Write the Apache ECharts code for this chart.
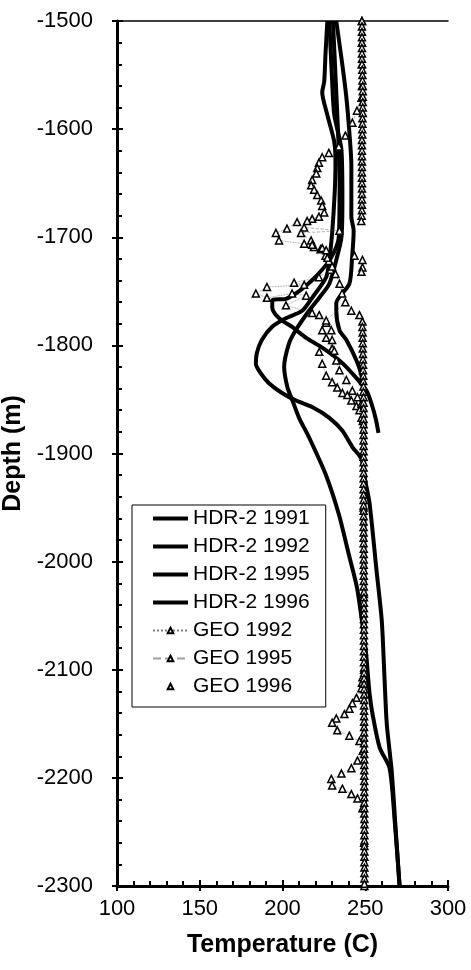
<!DOCTYPE html>
<html>
<head>
<meta charset="utf-8">
<title>Depth vs Temperature</title>
<script src="https://cdn.jsdelivr.net/npm/echarts@6/dist/echarts.min.js"></script>
<style>
html, body { margin: 0; padding: 0; background: #fff; }
#chart { width: 471px; height: 970px; }
</style>
</head>
<body>
<div id="chart"></div>
<script>
// temperature logs: depth (m) and temperature (C)
var hdr91Depth = [-1500, -1550, -1600, -1650, -1700, -1720, -1735, -1745, -1752, -1757, -1758, -1765, -1771, -1777, -1783, -1793, -1802, -1814, -1826, -1842, -1857, -1869, -1881];
var hdr91Temp = [230.5, 232, 233.5, 234.5, 234, 229, 221, 214, 208, 202, 194, 193.8, 195.5, 199.7, 205.8, 214.3, 224, 234.4, 242.2, 250.8, 254.4, 256.5, 258];

var hdr92Depth = [-1500, -1530, -1556, -1566, -1587, -1612, -1633, -1660, -1696, -1721, -1737, -1756, -1768, -1775, -1783, -1795, -1807, -1817, -1826, -1835, -1844, -1851, -1857, -1867, -1879, -1894, -1905, -1925, -1946, -2008, -2055, -2110, -2150, -2194, -2250, -2301];
var hdr92Temp = [227.1, 226, 225.2, 224, 227.1, 231.3, 232, 231.5, 230, 228.3, 226.4, 217.9, 211.9, 202, 193.6, 187.5, 184.5, 183.9, 186.9, 191.8, 199.7, 208.2, 217.9, 228.3, 236.2, 242.2, 247.7, 250, 252.6, 256.8, 260, 261.7, 263, 266, 268.5, 270.8];

var hdr95Depth = [-1500, -1556, -1587, -1619, -1666, -1700, -1721, -1743, -1756, -1768, -1786, -1798, -1820, -1839, -1851, -1867, -1885, -1919, -1956, -1993, -2024, -2055, -2085, -2122, -2141, -2172, -2191, -2240, -2301];
var hdr95Temp = [228.3, 230, 231.3, 235.6, 236.2, 235.6, 232.5, 228.3, 222.2, 216, 208, 204, 201, 203, 206, 210, 216, 226, 234, 240, 245, 248, 250.5, 252.6, 254.4, 258.7, 264.7, 267.8, 270.8];

var hdr96Depth = [-1500, -1541, -1571, -1603, -1633, -1681, -1694, -1720, -1743, -1761, -1768, -1786, -1795, -1814, -1830, -1850, -1900, -2000, -2100, -2200, -2300];
var hdr96Temp = [232.5, 236.2, 238.6, 240.4, 241.6, 241.6, 243, 242, 240.4, 232.5, 232.5, 234.4, 238.6, 244.7, 248, 249, 249.3, 249.5, 249.6, 249.7, 249.8];

var geo92Depth = [-1686, -1692, -1696, -1703, -1706, -1709, -1711, -1717, -1722, -1730, -1737, -1742, -1744, -1746, -1752, -1756, -1752, -1754, -1763, -1770, -1772, -1779, -1786, -1793, -1803, -1806, -1817, -1828, -1834, -1839, -1844, -1846, -1851, -1856, -1860, -1867];
var geo92Temp = [208.8, 202.7, 196, 197.9, 213.1, 219, 223, 226, 228, 229, 222, 207, 213.1, 190.6, 183.9, 190.6, 205.8, 214.3, 202.1, 217.9, 222.2, 226.4, 224, 226.4, 230, 222.2, 224, 226.4, 230, 233.1, 236.2, 239.2, 241.6, 244.7, 246.5, 247.7];

var geo95Depth = [-1500, -1520, -1540, -1560, -1571, -1583, -1594, -1606, -1616, -1622, -1626, -1631, -1636, -1641, -1647, -1652, -1656, -1661, -1666, -1671, -1677, -1681, -1683, -1685, -1691, -1694, -1696, -1703, -1707, -1710, -1712, -1719, -1727, -1734, -1743, -1752, -1760, -1777, -1786, -1795, -1805, -1814, -1823, -1832, -1842, -1848, -1854, -1870, -1950, -2030, -2100, -2107, -2112, -2117, -2126, -2131, -2136, -2141, -2145, -2149, -2156, -2161, -2166, -2175, -2184, -2191, -2196, -2201, -2207, -2210, -2215, -2219, -2228, -2260, -2300];
var geo95Temp = [248, 248, 248, 248, 247.7, 245, 242.2, 238, 234, 228, 224, 222, 221, 220.4, 217.9, 217.3, 219.1, 221, 223.4, 224, 225.2, 222, 217.9, 214.9, 213.1, 234.4, 211.2, 217.3, 217.9, 224, 226.4, 227.1, 230, 232, 234.5, 236, 238, 226.4, 229.5, 230, 231.3, 232.5, 234.4, 238.6, 242.2, 245.3, 247.7, 248.5, 249, 249.2, 249.3, 248.3, 248, 247.7, 244.7, 242.2, 240.4, 237.4, 232.5, 230, 233.1, 240.4, 246.5, 248.5, 245.3, 241.6, 235.6, 229.5, 230, 236.2, 241.6, 245.3, 248.3, 249.3, 249.5];

var geo96Depth = [
  -1500, -1505, -1510, -1515, -1520, -1525, -1530, -1535, -1540, -1545,
  -1550, -1555, -1560, -1565, -1570, -1575, -1580, -1585, -1590, -1595,
  -1600, -1605, -1610, -1615, -1620, -1625, -1630, -1635, -1640, -1645,
  -1650, -1655, -1660, -1665, -1670, -1675, -1680, -1685,
  -1717, -1721, -1728, -1732, -1768, -1772,
  -1778, -1783, -1788, -1793, -1798, -1803, -1808, -1813, -1818, -1823,
  -1828, -1833, -1838, -1843, -1848, -1853, -1858, -1863, -1868, -1873,
  -1878, -1883, -1888, -1893, -1898, -1903, -1908, -1913, -1918, -1923,
  -1928, -1933, -1938, -1943, -1948, -1953, -1958, -1963, -1968, -1973,
  -1978, -1983, -1988, -1993, -1998, -2003, -2008, -2013, -2018, -2023,
  -2028, -2033, -2038, -2043, -2048, -2053, -2058, -2063, -2068, -2073,
  -2078, -2083, -2088, -2093, -2098, -2103, -2108, -2113, -2118, -2123,
  -2128, -2133, -2138, -2143, -2148, -2153, -2158, -2163, -2168, -2173,
  -2178, -2183, -2188, -2193, -2198, -2203, -2208, -2213, -2218, -2223,
  -2228, -2233, -2238, -2243, -2248, -2253, -2258, -2263, -2268, -2273,
  -2278, -2283, -2288, -2293, -2298
];
var geo96Temp = [
  248, 248, 248, 248, 248, 248, 248, 248, 248, 248.2,
  248.3, 248.3, 248.5, 248.5, 248.5, 248.5, 248.5, 248.5, 248.3, 248.3,
  248.2, 248.2, 248, 248, 248, 248, 248, 248, 248, 248,
  248, 248, 248, 248, 248, 248, 247.8, 247.6,
  243.5, 248.3, 248.3, 247.7, 241.6, 246.5,
  248.3, 248.3, 248.4, 248.4, 248.5, 248.5, 248.6, 248.6, 248.7, 248.7,
  248.8, 248.8, 248.9, 248.9, 249, 249, 249, 249, 249, 249,
  249, 249, 249, 249, 249, 249, 249, 249, 249, 249,
  249, 249, 249, 249, 249, 249, 249, 249, 249, 249,
  249, 249, 249.1, 249.1, 249.1, 249.1, 249.1, 249.1, 249.1, 249.1,
  249.2, 249.2, 249.2, 249.2, 249.2, 249.2, 249.2, 249.2, 249.2, 249.2,
  249.2, 249.2, 249.2, 249.2, 249.3, 249.3, 249.3, 249.3, 249.3, 249.3,
  249.3, 249.3, 249.3, 249.3, 249.3, 249.3, 249.3, 249.3, 249.3, 249.3,
  249.4, 249.4, 249.4, 249.4, 249.4, 249.4, 249.4, 249.4, 249.4, 249.4,
  249.4, 249.4, 249.5, 249.5, 249.5, 249.5, 249.5, 249.5, 249.5, 249.5,
  249.5, 249.5, 249.5, 249.5, 249.5
];

var hdrNames = ['HDR-2 1991', 'HDR-2 1992', 'HDR-2 1995', 'HDR-2 1996'];
var geoNames = ['GEO 1992', 'GEO 1995', 'GEO 1996'];

function pairs(temp, depth) {
  return temp.map(function (t, i) { return [t, depth[i]]; });
}

var font = 'Liberation Sans, Arial, sans-serif';

function hdr(name, temp, depth) {
  return {
    name: name, type: 'line', data: pairs(temp, depth),
    symbol: 'none', smooth: 0.25,
    lineStyle: { color: '#000', width: 4 },
    itemStyle: { color: '#000' }
  };
}
function geo(name, temp, depth, lineType, lineOpacity) {
  return {
    name: name, type: 'line', data: pairs(temp, depth),
    symbol: 'triangle', symbolSize: 7,
    lineStyle: { color: '#444', width: 0.8, type: lineType, opacity: lineOpacity },
    itemStyle: { color: '#fff', borderColor: '#000', borderWidth: 1.5 }
  };
}

// legend: plain thick lines for HDR, small triangles for GEO
var legendData = hdrNames.map(function (n) {
  return { name: n, itemStyle: { opacity: 0 }, lineStyle: { width: 4, color: '#000' } };
}).concat(geoNames.map(function (n) {
  return { name: n };
}));

var chart = echarts.init(document.getElementById('chart'));
chart.setOption({
  animation: false,
  backgroundColor: '#fff',
  textStyle: { fontFamily: font, color: '#000' },
  grid: { left: 117, right: 23, top: 21, bottom: 84, outerBoundsMode: 'none' },
  legend: {
    orient: 'vertical', left: 132, top: 505,
    padding: [3, 16, 10, 19], itemGap: 7, itemWidth: 35, itemHeight: 7,
    borderColor: '#000', borderWidth: 1, backgroundColor: '#fff',
    textStyle: { fontSize: 21, color: '#000', fontFamily: font },
    data: legendData
  },
  xAxis: [
    {
      type: 'value', min: 100, max: 300, interval: 50, position: 'bottom',
      name: 'Temperature (C)', nameLocation: 'middle', nameGap: 47,
      nameTextStyle: { fontSize: 25, fontWeight: 'bold', color: '#000', fontFamily: font },
      axisLine: { lineStyle: { color: '#000', width: 3 } },
      axisTick: { inside: true, length: 6, lineStyle: { color: '#000', width: 2 } },
      minorTick: { show: true, splitNumber: 5, length: 5, lineStyle: { color: '#000', width: 2 } },
      splitLine: { show: false },
      axisLabel: { fontSize: 22, color: '#000', margin: 12, fontFamily: font }
    },
    {
      type: 'value', min: 100, max: 300, interval: 50, position: 'bottom',
      axisLine: { show: false },
      axisTick: { inside: false, length: 5, lineStyle: { color: '#000', width: 2 } },
      axisLabel: { show: false }, splitLine: { show: false }
    },
    {
      type: 'value', min: 100, max: 300, position: 'top',
      axisLine: { lineStyle: { color: '#000', width: 1.5 } },
      axisTick: { show: false }, axisLabel: { show: false }, splitLine: { show: false }
    }
  ],
  yAxis: [
    {
      type: 'value', min: -2300, max: -1500, interval: 100, position: 'left',
      name: 'Depth (m)', nameLocation: 'middle', nameGap: 85,
      nameTextStyle: { fontSize: 25, fontWeight: 'bold', color: '#000', fontFamily: font },
      axisLine: { lineStyle: { color: '#000', width: 3 } },
      axisTick: { inside: true, length: 6, lineStyle: { color: '#000', width: 2 } },
      minorTick: { show: true, splitNumber: 5, length: 5, lineStyle: { color: '#000', width: 2 } },
      splitLine: { show: false },
      axisLabel: { fontSize: 22, color: '#000', margin: 24, fontFamily: font,
        formatter: function (v) { return String(v); } }
    },
    {
      type: 'value', min: -2300, max: -1500, interval: 100, position: 'left',
      axisLine: { show: false },
      axisTick: { inside: false, length: 5, lineStyle: { color: '#000', width: 2 } },
      axisLabel: { show: false }, splitLine: { show: false }
    }
  ],
  series: [
    hdr(hdrNames[0], hdr91Temp, hdr91Depth),
    hdr(hdrNames[1], hdr92Temp, hdr92Depth),
    hdr(hdrNames[2], hdr95Temp, hdr95Depth),
    hdr(hdrNames[3], hdr96Temp, hdr96Depth),
    geo(geoNames[0], geo92Temp, geo92Depth, 'dotted', 0.7),
    geo(geoNames[1], geo95Temp, geo95Depth, 'dashed', 0.5),
    geo(geoNames[2], geo96Temp, geo96Depth, 'dotted', 0)
  ]
});
</script>
</body>
</html>
